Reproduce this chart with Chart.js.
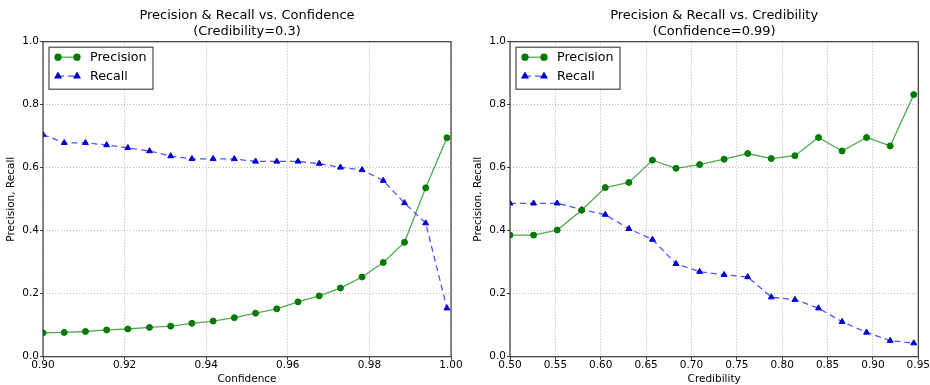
<!DOCTYPE html>
<html>
<head>
<meta charset="utf-8">
<script src="https://cdn.jsdelivr.net/npm/chart.js@4.4.1/dist/chart.umd.min.js"></script>
<style>
html,body{margin:0;padding:0;background:#fff;overflow:hidden;width:930px;height:385px}
#l{position:absolute;left:0;top:0;width:470px;height:385px}
#r{position:absolute;left:470px;top:0;width:460px;height:385px}
</style>
</head>
<body>
<div id="l"><canvas id="cl"></canvas></div>
<div id="r"><canvas id="cr"></canvas></div>
<script>
// ---- data ----
const confX = [0.9000,0.9052,0.9104,0.9156,0.9208,0.9261,0.9313,0.9365,0.9417,0.9469,0.9521,0.9573,0.9625,0.9677,0.9729,0.9782,0.9834,0.9886,0.9938,0.9990];
const confPrecision = [0.076,0.077,0.080,0.085,0.088,0.093,0.097,0.106,0.113,0.124,0.138,0.152,0.174,0.193,0.218,0.253,0.299,0.363,0.536,0.695];
const confRecall = [0.705,0.679,0.679,0.672,0.663,0.653,0.637,0.628,0.628,0.628,0.620,0.620,0.620,0.613,0.601,0.593,0.559,0.488,0.424,0.154];

const credX = [0.500,0.526,0.552,0.579,0.605,0.631,0.657,0.683,0.709,0.736,0.762,0.788,0.814,0.840,0.866,0.893,0.919,0.945];
const credPrecision = [0.386,0.386,0.402,0.465,0.537,0.553,0.624,0.598,0.610,0.627,0.645,0.629,0.638,0.696,0.653,0.696,0.669,0.832];
const credRecall = [0.487,0.487,0.487,0.467,0.451,0.406,0.372,0.295,0.270,0.260,0.253,0.189,0.181,0.154,0.111,0.077,0.051,0.043];

const confTicks = [0.90,0.92,0.94,0.96,0.98,1.00];
const credTicks = [0.50,0.55,0.60,0.65,0.70,0.75,0.80,0.85,0.90,0.95];
const yTicks = [0.0,0.2,0.4,0.6,0.8,1.0];

const leftTitle = ['Precision & Recall vs. Confidence','(Credibility=0.3)'];
const rightTitle = ['Precision & Recall vs. Credibility','(Confidence=0.99)'];
const leftXLabel = 'Confidence';
const rightXLabel = 'Credibility';
const yLabel = 'Precision, Recall';
const seriesNames = ['Precision','Recall'];

// ---- styling ----
const FONT = "'DejaVu Sans', 'Liberation Sans', sans-serif";
const GREEN_LINE = 'rgba(0,128,0,0.68)';
const GREEN_MARK = '#007a00';
const BLUE_LINE = 'rgba(0,0,255,0.68)';
const BLUE_MARK = '#0000d0';

function pts(xs, ys){ return xs.map((x,i)=>({x:x, y:ys[i]})); }

const framePlugin = {
  id:'frame',
  afterDraw(chart){
    const {ctx, chartArea:a} = chart;
    ctx.save();
    ctx.strokeStyle = '#3a3a3a';
    ctx.lineWidth = 1.2;
    ctx.setLineDash([]);
    ctx.strokeRect(a.left, a.top, a.right - a.left, a.bottom - a.top);
    ctx.restore();
  }
};

const legendPlugin = {
  id:'mplLegend',
  afterDraw(chart){
    const {ctx, chartArea:a} = chart;
    const bx = a.left + 6, by = a.top + 5.5, bw = 104, bh = 42;
    ctx.save();
    ctx.fillStyle = '#fff';
    ctx.fillRect(bx, by, bw, bh);
    ctx.strokeStyle = '#3a3a3a';
    ctx.lineWidth = 1.1;
    ctx.strokeRect(bx, by, bw, bh);
    chart.data.datasets.forEach((ds, i) => {
      const y = a.top + 15.5 + i * 19;
      const x1 = a.left + 15, x2 = a.left + 34;
      ctx.save();
      ctx.strokeStyle = ds.borderColor;
      ctx.lineWidth = ds.borderWidth;
      ctx.setLineDash(ds.borderDash || []);
      ctx.beginPath(); ctx.moveTo(x1, y); ctx.lineTo(x2, y); ctx.stroke();
      ctx.setLineDash([]);
      ctx.fillStyle = ds.pointBackgroundColor;
      ctx.strokeStyle = ds.pointBorderColor;
      const po = {pointStyle: ds.pointStyle, radius: ds.pointRadius, rotation: 0, borderWidth: 1};
      Chart.helpers.drawPoint(ctx, po, x1, y);
      Chart.helpers.drawPoint(ctx, po, x2, y);
      ctx.restore();
      ctx.fillStyle = '#000';
      ctx.font = '12.7px ' + FONT;
      ctx.textBaseline = 'middle';
      ctx.textAlign = 'left';
      ctx.fillText(ds.label, a.left + 47, y);
    });
    ctx.restore();
  }
};

function makeChart(canvasId, xs, prec, rec, xTicks, xMin, xMax, title, xLabel, yAxisWidth, yTitlePad, padRight){
  const ctx = document.getElementById(canvasId);
  return new Chart(ctx, {
    type:'line',
    data:{
      datasets:[
        {label:seriesNames[0], data:pts(xs,prec), borderColor:GREEN_LINE, borderWidth:1.3,
         pointStyle:'circle', pointRadius:3, pointBackgroundColor:GREEN_MARK, pointBorderColor:GREEN_MARK,
         pointBorderWidth:1, pointHoverRadius:3, tension:0, fill:false, clip:0},
        {label:seriesNames[1], data:pts(xs,rec), borderColor:BLUE_LINE, borderWidth:1.3, borderDash:[6,4],
         pointStyle:'triangle', pointRadius:3.4, pointBackgroundColor:BLUE_MARK, pointBorderColor:BLUE_MARK,
         pointBorderWidth:1, pointHoverRadius:3.4, tension:0, fill:false, clip:0}
      ]
    },
    options:{
      responsive:true, maintainAspectRatio:false, animation:false, devicePixelRatio:1,
      layout:{padding:{left:0, right:padRight, top:0, bottom:0}},
      plugins:{
        legend:{display:false},
        tooltip:{enabled:false},
        title:{display:true, text:title, fullSize:false, color:'#000',
          font:{family:FONT, size:13, lineHeight:'16px', weight:'normal'},
          padding:{top:8, bottom:1.7}}
      },
      scales:{
        x:{
          type:'linear', min:xMin, max:xMax,
          afterBuildTicks(scale){ scale.ticks = xTicks.map(v=>({value:v})); },
          afterFit(scale){ scale.height = 28.3; scale.paddingLeft = 0; scale.paddingRight = 0; },
          ticks:{autoSkip:false, maxRotation:0, padding:0, color:'#000',
            font:{family:FONT, size:10.5, lineHeight:1},
            callback:(v)=>Number(v).toFixed(2)},
          grid:{color:'#b8b8b8', lineWidth:1, drawTicks:true, tickLength:3, tickColor:'#3a3a3a', tickBorderDash:[], tickWidth:1},
          border:{display:false, dash:[1,2]},
          title:{display:true, text:xLabel, color:'#000', font:{family:FONT, size:10.5, lineHeight:1}, padding:{top:0,bottom:0}}
        },
        y:{
          type:'linear', min:0, max:1,
          afterBuildTicks(scale){ scale.ticks = yTicks.map(v=>({value:v})); },
          afterFit(scale){ scale.width = yAxisWidth; scale.paddingTop = 0; scale.paddingBottom = 0; },
          ticks:{autoSkip:false, padding:1, color:'#000',
            font:{family:FONT, size:10.5, lineHeight:1},
            callback:(v)=>Number(v).toFixed(1)},
          grid:{color:'#b8b8b8', lineWidth:1, drawTicks:true, tickLength:3, tickColor:'#3a3a3a', tickBorderDash:[], tickWidth:1},
          border:{display:false, dash:[1,2]},
          title:{display:true, text:yLabel, color:'#000', font:{family:FONT, size:10.5, lineHeight:1.2}, padding:{top:yTitlePad,bottom:0}}
        }
      }
    },
    plugins:[framePlugin, legendPlugin]
  });
}

makeChart('cl', confX, confPrecision, confRecall, confTicks, 0.90, 1.00, leftTitle, leftXLabel, 43, 4.7, 19);
makeChart('cr', credX, credPrecision, credRecall, credTicks, 0.50, 0.95, rightTitle, rightXLabel, 40, 1.7, 11.7);
</script>
</body>
</html>
